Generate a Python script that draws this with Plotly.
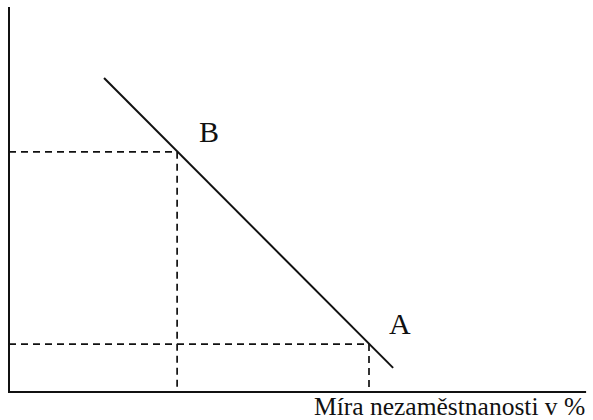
import plotly.graph_objects as go

# Data (abstract units: x = unemployment, y = inflation)
line_x = [2.64, 10.67]
line_y = [8.97, 0.69]
point_names = ["B", "A"]
point_x = [4.67, 10.0]
point_y = [6.86, 1.37]
axis_x_max = 16.03
axis_y_max = 11.0
x_label = "Míra nezaměstnanosti v %"

X_RANGE = [-0.25, 16.222]
Y_RANGE = [-0.8, 11.2]

fig = go.Figure()

# axes lines
fig.add_trace(go.Scatter(x=[0, 0, axis_x_max], y=[axis_y_max, 0, 0], mode="lines",
                         line=dict(color="#111111", width=2), hoverinfo="skip"))

# dashed guides
for px, py in zip(point_x, point_y):
    fig.add_trace(go.Scatter(x=[0, px, px], y=[py, py, 0], mode="lines",
                             line=dict(color="#111111", width=1.7, dash="7px,5px"),
                             hoverinfo="skip"))

# Phillips curve
fig.add_trace(go.Scatter(x=line_x, y=line_y, mode="lines",
                         line=dict(color="#111111", width=2), hoverinfo="skip"))

# point labels
for name, px, py, xs in zip(point_names, point_x, point_y, [20, 18]):
    fig.add_annotation(x=px, y=py, text=name, showarrow=False,
                       xanchor="left", yanchor="bottom", xshift=xs, yshift=2,
                       font=dict(family="Liberation Serif", size=30, color="#111111"))

fig.add_annotation(xref="paper", yref="paper", x=587/593, y=0, text=x_label,
                   showarrow=False, xanchor="right", yanchor="bottom", yshift=-3,
                   font=dict(family="Liberation Serif", size=25.5, color="#111111"))

fig.update_layout(
    width=593, height=420,
    margin=dict(l=0, r=0, t=0, b=0),
    showlegend=False,
    plot_bgcolor="white", paper_bgcolor="white",
    xaxis=dict(range=X_RANGE, visible=False, fixedrange=True),
    yaxis=dict(range=Y_RANGE, visible=False, fixedrange=True),
)

fig.write_html("out.html", config={"displayModeBar": False},
               post_script="document.body.style.margin='0';document.body.style.overflow='hidden';")
